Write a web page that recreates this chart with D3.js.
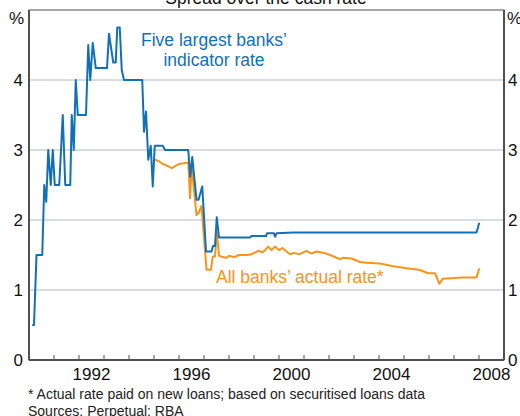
<!DOCTYPE html>
<html><head><meta charset="utf-8">
<script src="https://cdn.jsdelivr.net/npm/d3@7"></script>
<style>body{margin:0;background:#fff}svg{display:block;font-family:"Liberation Sans",Arial,sans-serif}</style>
</head><body><svg id="c" width="520" height="416"></svg>
<script>
const blueDates = [1990.13,1990.2,1990.3,1990.53,1990.61,1990.69,1990.77,1990.87,1990.95,1991.03,1991.21,1991.35,1991.45,1991.65,1991.71,1991.79,1991.87,1991.95,1992.28,1992.37,1992.45,1992.55,1992.67,1993.12,1993.2,1993.37,1993.47,1993.53,1993.63,1993.71,1993.8,1994.53,1994.6,1994.68,1994.77,1994.87,1994.95,1995.03,1995.35,1995.44,1996.37,1996.45,1996.53,1996.7,1996.78,1996.93,1997.08,1997.3,1997.36,1997.44,1997.51,1997.6,1998.84,1998.9,1999.48,1999.52,1999.8,1999.84,1999.9,2000.57,2007.9,2008.01];
const blueValues = [0.5,0.5,1.5,1.5,2.5,2.26,3.0,2.5,3.0,2.5,2.5,3.5,2.5,2.5,3.5,3.0,4.0,3.5,3.5,4.5,4.0,4.53,4.17,4.17,4.66,4.25,4.25,4.75,4.75,4.14,4.0,4.0,3.26,3.55,2.86,3.06,2.48,3.06,3.06,3.0,3.0,2.62,2.9,2.29,2.29,2.48,1.55,1.55,1.63,1.63,2.04,1.75,1.75,1.77,1.77,1.81,1.81,1.76,1.81,1.82,1.82,1.96];
const orangeDates = [1995.04,1995.2,1995.35,1995.5,1995.71,1995.85,1996.0,1996.2,1996.37,1996.44,1996.51,1996.7,1996.78,1996.9,1997.1,1997.28,1997.35,1997.44,1997.51,1997.6,1997.75,1997.9,1998.0,1998.2,1998.4,1998.7,1998.9,1999.17,1999.35,1999.57,1999.7,1999.84,2000.0,2000.13,2000.44,2000.6,2000.8,2001.1,2001.3,2001.5,2001.8,2002.04,2002.44,2002.55,2002.9,2003.24,2003.5,2004.04,2004.57,2005.1,2005.6,2005.97,2006.24,2006.41,2006.55,2007.0,2007.33,2007.9,2008.01];
const orangeValues = [2.86,2.84,2.8,2.78,2.74,2.77,2.8,2.81,2.82,2.31,2.76,2.07,2.1,2.2,1.29,1.29,1.48,1.48,1.83,1.49,1.47,1.46,1.49,1.47,1.5,1.5,1.51,1.56,1.54,1.62,1.57,1.62,1.57,1.6,1.51,1.53,1.51,1.56,1.52,1.55,1.53,1.5,1.44,1.46,1.45,1.4,1.39,1.38,1.34,1.31,1.29,1.24,1.24,1.09,1.16,1.17,1.18,1.18,1.31];
const yTicks = [0,1,2,3,4];
const xLabelYears = [1992,1996,2000,2004,2008];
const xTickYears = d3.range(1991,2009);
const title = "Spread over the cash rate";
const blueLabel = ["Five largest banks’","indicator rate"];
const orangeLabel = "All banks’ actual rate*";
const notes = ["* Actual rate paid on new loans; based on securitised loans data","Sources: Perpetual; RBA"];

const blue = "#1170b8", orange = "#f7941d", axisCol = "#505050", gridCol = "#b4bcc4";
const L = 29, R = 504, T = 10, B = 360;
const svg = d3.select("#c");
const x = d3.scaleLinear().domain([1990, 2009]).range([L, R]);
const y = d3.scaleLinear().domain([0, 5]).range([B, T]);

svg.append("text").attr("x", 266).attr("y", 4).attr("text-anchor","middle").attr("font-size",17.5).attr("fill","#111").text(title);

svg.append("g").selectAll("line").data(yTicks.filter(d=>d>0)).join("line")
  .attr("x1", L).attr("x2", R).attr("y1", d=>y(d)).attr("y2", d=>y(d))
  .attr("stroke", gridCol).attr("stroke-width", 1);

// frame
svg.append("rect").attr("x", L).attr("y", T).attr("width", R-L).attr("height", B-T)
  .attr("fill","none").attr("stroke", axisCol).attr("stroke-width", 1);
svg.append("line").attr("x1",L).attr("x2",L).attr("y1",T).attr("y2",B).attr("stroke",axisCol).attr("stroke-width",2);
svg.append("line").attr("x1",R).attr("x2",R).attr("y1",T).attr("y2",B).attr("stroke",axisCol).attr("stroke-width",2);
svg.append("line").attr("x1",L).attr("x2",R).attr("y1",B).attr("y2",B).attr("stroke",axisCol).attr("stroke-width",2);

// x ticks (inward)
svg.append("g").selectAll("line").data(xTickYears).join("line")
  .attr("x1", d=>x(d)).attr("x2", d=>x(d)).attr("y1", B).attr("y2", B-5)
  .attr("stroke", axisCol).attr("stroke-width", 1);
svg.append("g").selectAll("text").data(xLabelYears).join("text")
  .attr("x", d=>x(d+0.5)).attr("y", 380).attr("text-anchor","middle")
  .attr("font-size",17).attr("fill","#111").text(d=>d);

// y labels
const yl = svg.append("g").attr("font-size",17).attr("fill","#111");
yl.selectAll("text.l").data(yTicks).join("text").attr("class","l")
  .attr("x", 23).attr("y", d=>y(d)).attr("dy","0.35em").attr("text-anchor","end").text(d=>d);
yl.selectAll("text.r").data(yTicks).join("text").attr("class","r")
  .attr("x", 508).attr("y", d=>y(d)).attr("dy","0.35em").attr("text-anchor","start").text(d=>d);
yl.append("text").attr("x", 24).attr("y", 24).attr("text-anchor","end").text("%");
yl.append("text").attr("x", 507).attr("y", 24).attr("text-anchor","start").text("%");

const line = d3.line().x(d=>x(d[0])).y(d=>y(d[1]));
svg.append("path").datum(orangeDates.map((d,i)=>[d, orangeValues[i]]))
  .attr("d", line).attr("fill","none").attr("stroke", orange).attr("stroke-width", 2).attr("stroke-linejoin","round");
svg.append("path").datum(blueDates.map((d,i)=>[d, blueValues[i]]))
  .attr("d", line).attr("fill","none").attr("stroke", blue).attr("stroke-width", 2).attr("stroke-linejoin","round");

svg.append("g").selectAll("text").data(blueLabel).join("text")
  .attr("x", 214).attr("y", (d,i)=>46 + i*20).attr("text-anchor","middle")
  .attr("font-size",17.5).attr("fill", blue).text(d=>d);
svg.append("text").attr("x", 216).attr("y", 283).attr("font-size",17.5).attr("fill", orange).text(orangeLabel);

svg.append("g").selectAll("text").data(notes).join("text")
  .attr("x", 28).attr("y", (d,i)=>399 + i*17).attr("font-size",14).attr("fill","#222").text(d=>d);
</script></body></html>
